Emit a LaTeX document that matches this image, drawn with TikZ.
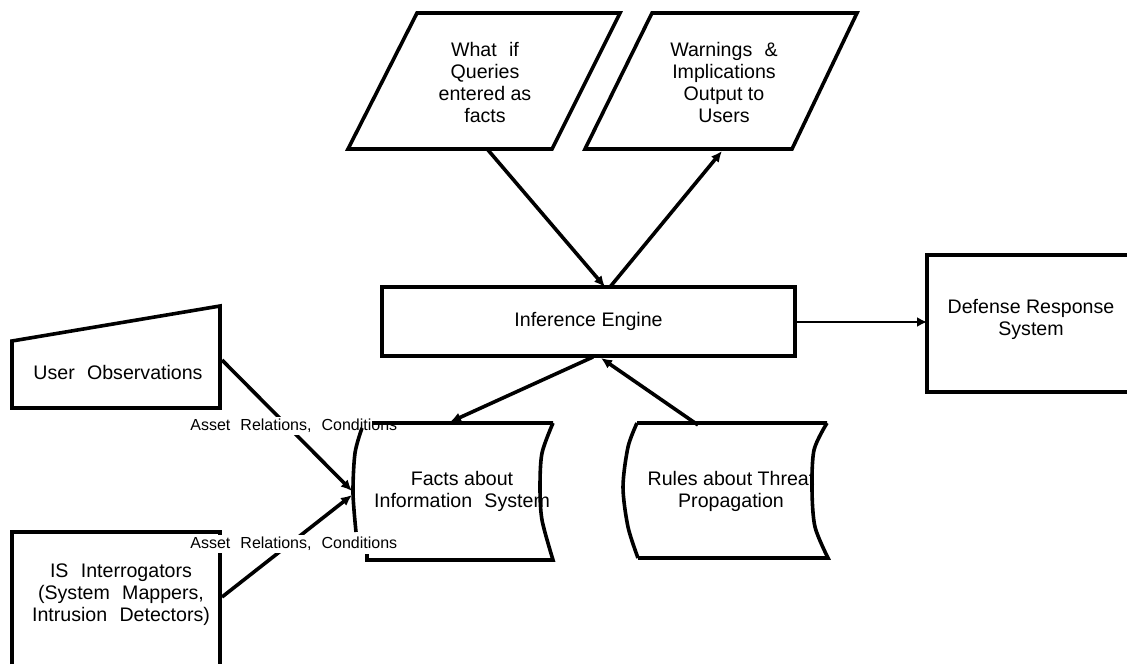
\documentclass[tikz,border=0pt]{standalone}
\usepackage{fontspec}
\setmainfont{Liberation Sans}
\usetikzlibrary{arrows.meta}
\newcommand\wsp{\hspace{0.35em}}
\begin{document}
\begin{tikzpicture}[x=0.5pt,y=-0.5pt,
  shapeline/.style={line width=1.8pt, line join=miter},
  conn/.style={line width=1.8pt, -{Latex[length=5.5pt,width=5pt]}},
  thinconn/.style={line width=1.1pt, -{Latex[length=5pt,width=5pt]}},
  txt/.style={align=center, font=\fontsize{9.8}{11}\selectfont, inner sep=0pt},
  lbl/.style={font=\fontsize{8}{9.5}\selectfont, fill=white, inner sep=1pt, anchor=west}]
\useasboundingbox (0,0) rectangle (1127,664);

% top parallelograms
\draw[shapeline] (417,13) -- (620,13) -- (552,149) -- (348,149) -- cycle;
\node[txt] (query) at (485,82) {What\wsp{} if\\Queries\\entered as\\facts};
\draw[shapeline] (652,13) -- (857,13) -- (792,149) -- (585,149) -- cycle;
\node[txt] (warn) at (724,82) {Warnings\wsp{} \&\\Implications\\Output to\\Users};

% inference engine
\node[draw, shapeline, minimum width=206.5pt, minimum height=34.5pt, inner sep=0pt,
      font=\fontsize{9.8}{11}\selectfont] (ie) at (588.5,321.5) {Inference Engine};

% defense response system (open at the right border)
\draw[shapeline] (1127,255) -- (927,255) -- (927,392) -- (1127,392);
\node[txt] (def) at (1031,319) {Defense Response\\System};

% user observations
\draw[shapeline] (12,341) -- (220,306) -- (220,408) -- (12,408) -- cycle;
\node[txt] (uo) at (118,372) {User\wsp{} Observations};

% IS interrogators (open at the bottom border)
\draw[shapeline] (12,664) -- (12,532) -- (220,532) -- (220,664);
\node[txt] (isi) at (121,595) {IS\wsp{} Interrogators\\(System\wsp{} Mappers,\\Intrusion\wsp{} Detectors)};

% rules about threat propagation
\draw[shapeline] (637,423) -- (827,423)
  plot[smooth] coordinates {(827,423) (814,450) (812,490) (815,527) (828,558)}
  -- (638,558)
  plot[smooth] coordinates {(638,558) (628,527) (623,487) (628,447) (637,423)};
\node[txt] (rules) at (731,491) {Rules about Threat\\Propagation};

% connector end points
\coordinate (q-out) at (488,150);
\coordinate (ie-in1) at (605,287);
\coordinate (ie-out1) at (610,287);
\coordinate (w-in) at (722,151);
\coordinate (ie-out2) at (593,357);
\coordinate (f-in) at (450,422);
\coordinate (r-out) at (698,425);
\coordinate (ie-in2) at (601,358);
\coordinate (uo-out) at (222,360);
\coordinate (isi-out) at (222,597);
\coordinate (f-in1) at (352,491);
\coordinate (f-in2) at (352,495);
\coordinate (def-in) at (927,322);

% connectors
\draw[conn] (q-out) -- (ie-in1);
\draw[conn] (ie-out1) -- (w-in);
\draw[conn] (ie-out2) -- (f-in);
\draw[conn] (r-out) -- (ie-in2);
\draw[thinconn] (ie.east |- def-in) -- (def-in);
\draw[conn] (uo-out) -- (f-in1);
\draw[conn] (isi-out) -- (f-in2);

% labels on the input connectors
\node[lbl] (lab1) at (188,426) {Asset\wsp{} Relations,\wsp{} Conditions};
\node[lbl] (lab2) at (188,544) {Asset\wsp{} Relations,\wsp{} Conditions};

% facts about information system (drawn after the labels, as in the source)
\draw[shapeline] (372,423) -- (553,423)
  plot[smooth] coordinates {(553,423) (542,453) (540,487) (542,520) (553,560)}
  -- (367,560) -- (367,554);
\draw[shapeline] plot[smooth] coordinates {(362,428) (355,453) (353,493) (356,532)};
\node[txt] (facts) at (462,491) {Facts about\\Information\wsp{} System};
\end{tikzpicture}
\end{document}
